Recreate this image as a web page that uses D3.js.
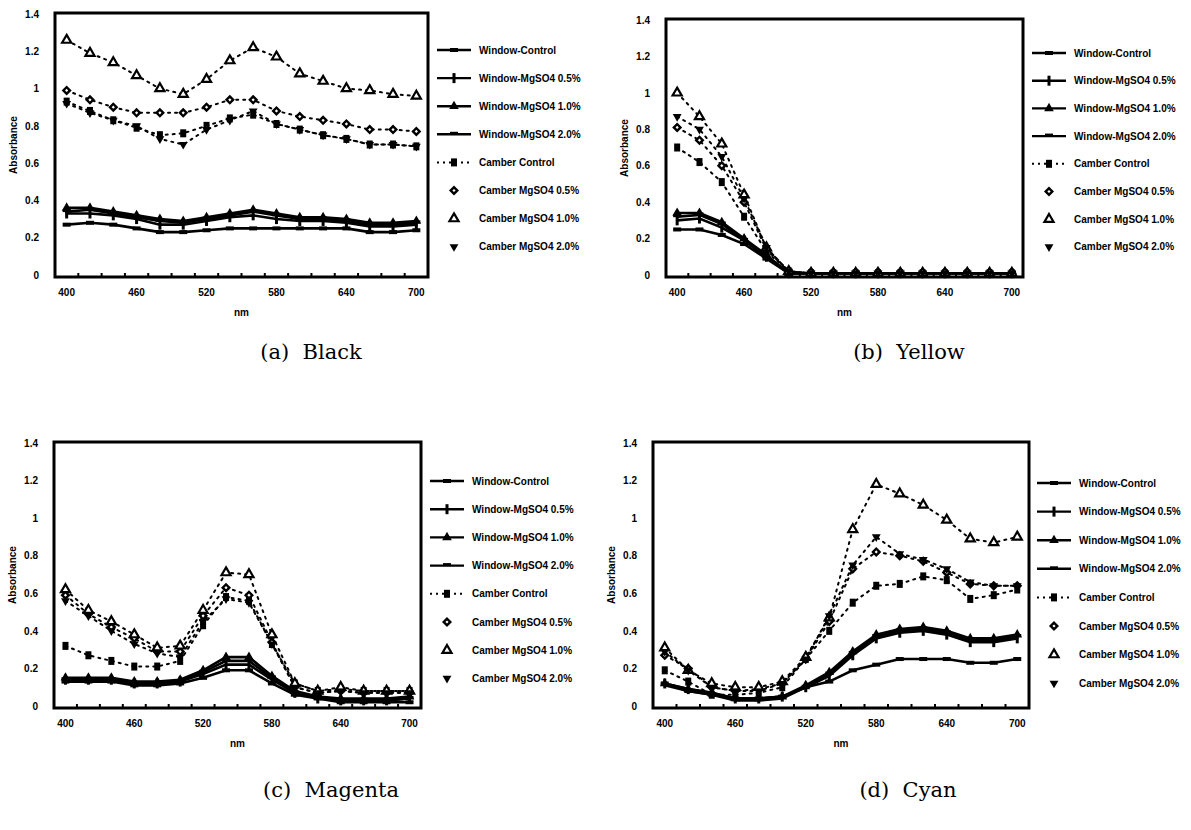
<!DOCTYPE html>
<html>
<head>
<meta charset="utf-8">
<script src="https://cdn.jsdelivr.net/npm/d3@7"></script>
<style>
  body { margin: 0; background: #fff; }
  svg { display: block; }
  .tick text { font-family: "Liberation Sans", Arial, sans-serif; font-weight: bold; font-size: 10px; }
</style>
</head>
<body>
<script>
// wavelengths (nm) and tick labels
const wavelengths = [400, 420, 440, 460, 480, 500, 520, 540, 560, 580, 600, 620, 640, 660, 680, 700];
const xTickLabels = [400, 460, 520, 580, 640, 700];
const yTicks = [0, 0.2, 0.4, 0.6, 0.8, 1, 1.2, 1.4];

const seriesNames = [
  'Window-Control', 'Window-MgSO4 0.5%', 'Window-MgSO4 1.0%', 'Window-MgSO4 2.0%',
  'Camber Control', 'Camber MgSO4 0.5%', 'Camber MgSO4 1.0%', 'Camber MgSO4 2.0%'
];

// absorbance values, one row per series (same order as seriesNames)
const black = [
  [0.27, 0.28, 0.27, 0.25, 0.23, 0.23, 0.24, 0.25, 0.25, 0.25, 0.25, 0.25, 0.25, 0.23, 0.23, 0.24],
  [0.33, 0.33, 0.32, 0.30, 0.27, 0.27, 0.29, 0.31, 0.32, 0.30, 0.29, 0.29, 0.28, 0.26, 0.26, 0.27],
  [0.36, 0.36, 0.34, 0.32, 0.30, 0.29, 0.31, 0.33, 0.35, 0.33, 0.31, 0.31, 0.30, 0.28, 0.28, 0.29],
  [0.34, 0.35, 0.33, 0.31, 0.29, 0.28, 0.30, 0.32, 0.34, 0.32, 0.30, 0.30, 0.29, 0.27, 0.27, 0.28],
  [0.93, 0.88, 0.83, 0.79, 0.75, 0.76, 0.80, 0.84, 0.86, 0.81, 0.78, 0.75, 0.73, 0.70, 0.70, 0.69],
  [0.99, 0.94, 0.90, 0.87, 0.87, 0.87, 0.90, 0.94, 0.94, 0.88, 0.85, 0.83, 0.81, 0.78, 0.78, 0.77],
  [1.26, 1.19, 1.14, 1.07, 1.00, 0.97, 1.05, 1.15, 1.22, 1.17, 1.08, 1.04, 1.00, 0.99, 0.97, 0.96],
  [0.92, 0.87, 0.83, 0.80, 0.73, 0.70, 0.78, 0.83, 0.88, 0.81, 0.78, 0.75, 0.73, 0.70, 0.70, 0.69]
];
const yellow = [
  [0.25, 0.25, 0.22, 0.17, 0.09, 0.01, 0.01, 0.01, 0.01, 0.01, 0.01, 0.01, 0.01, 0.01, 0.01, 0.01],
  [0.30, 0.31, 0.26, 0.19, 0.10, 0.01, 0.01, 0.01, 0.01, 0.01, 0.01, 0.01, 0.01, 0.01, 0.01, 0.01],
  [0.34, 0.34, 0.29, 0.20, 0.11, 0.01, 0.01, 0.01, 0.01, 0.01, 0.01, 0.01, 0.01, 0.01, 0.01, 0.01],
  [0.32, 0.33, 0.28, 0.19, 0.10, 0.01, 0.01, 0.01, 0.01, 0.01, 0.01, 0.01, 0.01, 0.01, 0.01, 0.01],
  [0.70, 0.62, 0.51, 0.32, 0.13, 0.02, 0.01, 0.01, 0.01, 0.01, 0.01, 0.01, 0.01, 0.01, 0.01, 0.01],
  [0.81, 0.74, 0.60, 0.40, 0.14, 0.02, 0.01, 0.01, 0.01, 0.01, 0.01, 0.01, 0.01, 0.01, 0.01, 0.01],
  [1.00, 0.87, 0.72, 0.44, 0.15, 0.02, 0.01, 0.01, 0.01, 0.01, 0.01, 0.01, 0.01, 0.01, 0.01, 0.01],
  [0.87, 0.80, 0.65, 0.42, 0.15, 0.02, 0.01, 0.01, 0.01, 0.01, 0.01, 0.01, 0.01, 0.01, 0.01, 0.01]
];
const magenta = [
  [0.13, 0.13, 0.13, 0.11, 0.11, 0.12, 0.15, 0.19, 0.19, 0.12, 0.06, 0.04, 0.02, 0.02, 0.02, 0.02],
  [0.14, 0.14, 0.14, 0.12, 0.12, 0.13, 0.17, 0.22, 0.22, 0.14, 0.07, 0.04, 0.03, 0.03, 0.03, 0.04],
  [0.15, 0.15, 0.15, 0.13, 0.13, 0.14, 0.19, 0.26, 0.26, 0.16, 0.08, 0.05, 0.04, 0.04, 0.04, 0.05],
  [0.14, 0.14, 0.14, 0.12, 0.12, 0.13, 0.18, 0.24, 0.24, 0.15, 0.07, 0.05, 0.03, 0.03, 0.03, 0.04],
  [0.32, 0.27, 0.24, 0.21, 0.21, 0.24, 0.43, 0.58, 0.56, 0.33, 0.12, 0.08, 0.09, 0.08, 0.08, 0.08],
  [0.59, 0.49, 0.42, 0.36, 0.29, 0.29, 0.48, 0.63, 0.59, 0.34, 0.10, 0.07, 0.08, 0.07, 0.07, 0.07],
  [0.62, 0.51, 0.45, 0.38, 0.31, 0.32, 0.51, 0.71, 0.70, 0.38, 0.12, 0.08, 0.10, 0.08, 0.08, 0.08],
  [0.56, 0.48, 0.40, 0.33, 0.28, 0.26, 0.45, 0.57, 0.55, 0.33, 0.10, 0.07, 0.08, 0.07, 0.07, 0.07]
];
const cyan = [
  [0.12, 0.08, 0.06, 0.04, 0.04, 0.05, 0.10, 0.13, 0.19, 0.22, 0.25, 0.25, 0.25, 0.23, 0.23, 0.25],
  [0.12, 0.09, 0.07, 0.04, 0.04, 0.05, 0.10, 0.16, 0.27, 0.36, 0.39, 0.40, 0.38, 0.34, 0.34, 0.36],
  [0.12, 0.09, 0.07, 0.04, 0.04, 0.05, 0.11, 0.18, 0.29, 0.38, 0.41, 0.42, 0.40, 0.36, 0.36, 0.38],
  [0.11, 0.08, 0.06, 0.03, 0.03, 0.04, 0.10, 0.17, 0.28, 0.37, 0.40, 0.41, 0.39, 0.35, 0.35, 0.37],
  [0.19, 0.13, 0.06, 0.06, 0.07, 0.10, 0.25, 0.40, 0.55, 0.64, 0.65, 0.69, 0.67, 0.57, 0.59, 0.62],
  [0.27, 0.20, 0.10, 0.08, 0.09, 0.12, 0.25, 0.45, 0.73, 0.82, 0.80, 0.77, 0.71, 0.65, 0.64, 0.64],
  [0.31, 0.19, 0.12, 0.10, 0.10, 0.13, 0.26, 0.47, 0.94, 1.18, 1.13, 1.07, 0.99, 0.89, 0.87, 0.90],
  [0.29, 0.19, 0.10, 0.08, 0.08, 0.12, 0.25, 0.48, 0.75, 0.90, 0.81, 0.78, 0.73, 0.66, 0.64, 0.64]
];

const captions = ['(a)  Black', '(b)  Yellow', '(c)  Magenta', '(d)  Cyan'];

// panel layout
const panels = [
  { data: black,   caption: captions[0], box: [55, 13, 428, 277],   capX: 311, capY: 359, legX: 437, legY: 50,  legDy: 28.1 },
  { data: yellow,  caption: captions[1], box: [666, 19, 1023, 277], capX: 909, capY: 359, legX: 1032, legY: 53, legDy: 27.7 },
  { data: magenta, caption: captions[2], box: [54, 442, 421, 708],  capX: 331, capY: 797, legX: 430, legY: 481, legDy: 28.2 },
  { data: cyan,    caption: captions[3], box: [653, 442, 1029, 708], capX: 908, capY: 797, legX: 1037, legY: 483, legDy: 28.6 }
];

// marker / line style per series
const styles = [
  { dash: null,  symbol: 'rect' },
  { dash: null,  symbol: 'plus' },
  { dash: null,  symbol: 'tri' },
  { dash: null,  symbol: 'dash' },
  { dash: '2,5', symbol: 'square', legendLine: true },
  { dash: '2,5', symbol: 'diamond', legendLine: false },
  { dash: '2,5', symbol: 'opentri', legendLine: false },
  { dash: '2,5', symbol: 'invtri', legendLine: false }
];

const svg = d3.select('body').append('svg')
  .attr('width', 1191).attr('height', 830);

function drawMarker(g, type, x, y) {
  if (type === 'rect') {
    g.append('rect').attr('x', x - 4).attr('y', y - 2).attr('width', 8).attr('height', 4).attr('fill', '#000');
  } else if (type === 'plus') {
    g.append('rect').attr('x', x - 1.5).attr('y', y - 5).attr('width', 3).attr('height', 10).attr('fill', '#000');
  } else if (type === 'tri') {
    g.append('path').attr('d', d3.symbol(d3.symbolTriangle, 40)()).attr('transform', `translate(${x},${y})`).attr('fill', '#000');
  } else if (type === 'dash') {
    g.append('rect').attr('x', x - 4).attr('y', y - 2.5).attr('width', 8).attr('height', 3).attr('fill', '#000');
  } else if (type === 'square') {
    g.append('rect').attr('x', x - 3).attr('y', y - 4).attr('width', 6).attr('height', 8).attr('fill', '#000');
  } else if (type === 'diamond') {
    g.append('path').attr('d', d3.symbol(d3.symbolSquare, 22)()).attr('transform', `translate(${x},${y}) rotate(45)`)
      .attr('fill', '#fff').attr('stroke', '#000').attr('stroke-width', 2.4);
  } else if (type === 'opentri') {
    g.append('path').attr('d', d3.symbol(d3.symbolTriangle, 36)()).attr('transform', `translate(${x},${y})`)
      .attr('fill', '#fff').attr('stroke', '#000').attr('stroke-width', 2.2);
  } else if (type === 'invtri') {
    g.append('path').attr('d', d3.symbol(d3.symbolTriangle, 34)()).attr('transform', `translate(${x},${y}) rotate(180)`).attr('fill', '#000');
  }
}

panels.forEach(p => {
  const [x0, y0, x1, y1] = p.box;
  const g = svg.append('g');

  const x = d3.scaleBand(wavelengths, [x0, x1]);
  const y = d3.scaleLinear([0, 1.4], [y1 - 2, y0 + 1]);
  const cx = w => x(w) + x.bandwidth() / 2;

  // lines
  const line = d3.line().x((d, i) => cx(wavelengths[i])).y(d => y(d));
  p.data.forEach((vals, s) => {
    g.append('path')
      .attr('d', line(vals))
      .attr('fill', 'none')
      .attr('stroke', '#000')
      .attr('stroke-width', s < 4 ? 2.6 : 2)
      .attr('stroke-dasharray', styles[s].dash)
      .attr('stroke-linecap', 'round');
  });
  // markers
  p.data.forEach((vals, s) => {
    vals.forEach((v, i) => drawMarker(g, styles[s].symbol, cx(wavelengths[i]), y(v)));
  });

  // frame
  g.append('rect')
    .attr('x', x0).attr('y', y0)
    .attr('width', x1 - x0).attr('height', y1 - y0)
    .attr('fill', 'none').attr('stroke', '#000').attr('stroke-width', 3);

  // inner tick marks between categories
  g.selectAll('line.tk').data(wavelengths.slice(0, -1)).join('line')
    .attr('x1', w => x(w) + x.step()).attr('x2', w => x(w) + x.step())
    .attr('y1', y1).attr('y2', y1 - 4)
    .attr('stroke', '#000').attr('stroke-width', 2);

  // x axis labels
  const ax = g.append('g').attr('transform', `translate(0,${y1 + 6})`)
    .call(d3.axisBottom(x).tickValues(xTickLabels).tickSize(0).tickPadding(6));
  ax.select('.domain').remove();

  // y axis labels
  const ay = g.append('g').attr('transform', `translate(${x0 - 12},0)`)
    .call(d3.axisLeft(y).tickValues(yTicks).tickSize(0).tickPadding(4).tickFormat(d3.format('')));
  ay.select('.domain').remove();

  g.append('text')
    .attr('x', (x0 + x1) / 2).attr('y', y1 + 39)
    .attr('text-anchor', 'middle')
    .style('font', 'bold 10px "Liberation Sans", Arial, sans-serif')
    .text('nm');

  g.append('text')
    .attr('transform', `translate(${x0 - 38},${(y0 + y1) / 2}) rotate(-90)`)
    .attr('text-anchor', 'middle')
    .style('font', 'bold 10px "Liberation Sans", Arial, sans-serif')
    .text('Absorbance');

  // legend
  seriesNames.forEach((name, s) => {
    const ly = p.legY + s * p.legDy;
    const lg = g.append('g');
    if (s < 4) {
      lg.append('line').attr('x1', p.legX).attr('x2', p.legX + 34).attr('y1', ly).attr('y2', ly)
        .attr('stroke', '#000').attr('stroke-width', 2.4);
    } else if (styles[s].legendLine) {
      lg.append('line').attr('x1', p.legX).attr('x2', p.legX + 34).attr('y1', ly).attr('y2', ly)
        .attr('stroke', '#000').attr('stroke-width', 2).attr('stroke-dasharray', '2,4');
    }
    drawMarker(lg, styles[s].symbol, p.legX + 17, ly);
    lg.append('text')
      .attr('x', p.legX + 42).attr('y', ly + 3.5)
      .style('font', 'bold 10px "Liberation Sans", Arial, sans-serif')
      .text(name);
  });

  // caption
  svg.append('text')
    .attr('x', p.capX).attr('y', p.capY)
    .attr('text-anchor', 'middle')
    .style('font', '21px "DejaVu Serif", serif')
    .style('white-space', 'pre')
    .text(p.caption);
});
</script>
</body>
</html>
